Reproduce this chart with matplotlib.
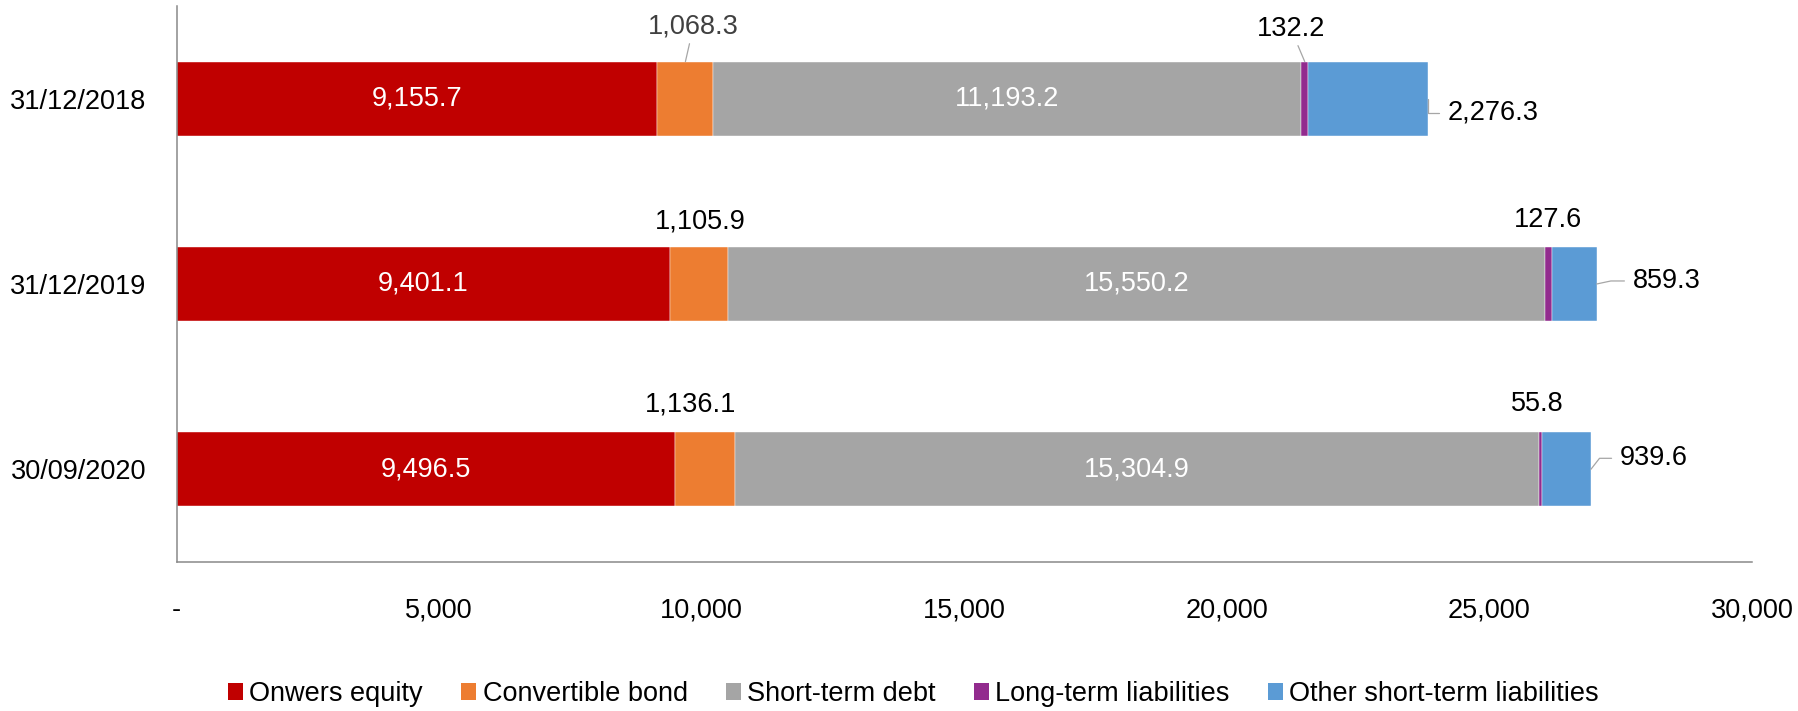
import matplotlib
matplotlib.use('Agg')
import matplotlib.pyplot as plt
from matplotlib.patches import Patch
from matplotlib.ticker import FuncFormatter

# Capital structure by date
dates = ["31/12/2018", "31/12/2019", "30/09/2020"]
series_names = ["Onwers equity", "Convertible bond", "Short-term debt",
                "Long-term liabilities", "Other short-term liabilities"]
owners_equity = [9155.7, 9401.1, 9496.5]
convertible_bond = [1068.3, 1105.9, 1136.1]
short_term_debt = [11193.2, 15550.2, 15304.9]
long_term_liab = [132.2, 127.6, 55.8]
other_short_term = [2276.3, 859.3, 939.6]
x_ticks = [0, 5000, 10000, 15000, 20000, 25000, 30000]

colors = ["#C00000", "#ED7D31", "#A5A5A5", "#922B8E", "#5B9BD5"]

plt.rcParams['font.family'] = ['Liberation Sans', 'DejaVu Sans']
FS = 19.5
DPI = 100

fig = plt.figure(figsize=(17.98, 7.11), dpi=DPI)
ax = fig.add_axes([0.0982, 0.2096, 0.8762, 0.782])

all_series = [owners_equity, convertible_bond, short_term_debt, long_term_liab, other_short_term]
rows = list(range(len(dates)))
bar_h = 0.4

# stacked horizontal bars
lefts = [0.0] * len(dates)
starts = []
for vals, col in zip(all_series, colors):
    ax.barh(rows, vals, left=lefts, height=bar_h, color=col, edgecolor='white', linewidth=0.3)
    starts.append(list(lefts))
    lefts = [l + v for l, v in zip(lefts, vals)]

ax.set_ylim(len(dates) - 0.5, -0.5)
ax.set_xlim(0, 30000)
ax.set_yticks(rows)
ax.set_yticklabels(dates)
ax.set_xticks(x_ticks)
ax.xaxis.set_major_formatter(FuncFormatter(lambda v, p: '-' if v == 0 else f'{v:,.0f}'))
ax.tick_params(axis='x', length=0, pad=25.5, labelsize=FS)
ax.tick_params(axis='y', length=0, pad=22, labelsize=FS)

for s in ['top', 'right']:
    ax.spines[s].set_visible(False)
for s in ['left', 'bottom']:
    ax.spines[s].set_color('#898989')
    ax.spines[s].set_linewidth(1.1)

leader = dict(arrowstyle='-', color='#A6A6A6', lw=0.9, shrinkA=1, shrinkB=0)

# White labels inside equity and short-term debt segments
for idx in (0, 2):
    for r in rows:
        v = all_series[idx][r]
        ax.text(starts[idx][r] + v / 2, r, f'{v:,.1f}', ha='center', va='center',
                color='white', fontsize=FS)

# Labels above the bar (convertible bond, long-term liabilities), pixel offsets from bar top
above_offsets = {1: [(8, 35), (1, 25), (-15, 28)],
                 3: [(-14, 33), (0, 27), (-3, 28)]}
for idx, offs in above_offsets.items():
    for r in rows:
        v = all_series[idx][r]
        xy = (starts[idx][r] + v / 2, r - bar_h / 2)
        col = '#404040' if (idx == 1 and r == 0) else 'black'
        ap = leader if r == 0 else None
        ax.annotate(f'{v:,.1f}', xy=xy, xytext=offs[r], textcoords='offset pixels',
                    ha='center', va='center', fontsize=FS, color=col, arrowprops=ap,
                    annotation_clip=False)

# Other short-term liabilities: right of the bar with connectors
right_offsets = [(20, -14), (36, 3), (29, 11)]
right_angles = [90, 12, 52]
for r in rows:
    v = other_short_term[r]
    xy = (starts[4][r] + v, r)
    ap = dict(leader, shrinkA=4,
              connectionstyle=f'angle,angleA=0,angleB={right_angles[r]},rad=0')
    ax.annotate(f'{v:,.1f}', xy=xy, xytext=right_offsets[r], textcoords='offset pixels',
                ha='left', va='center', fontsize=FS, color='black', arrowprops=ap,
                annotation_clip=False)

handles = [Patch(facecolor=c, edgecolor='none') for c in colors]
fig.legend(handles, series_names, loc='center', bbox_to_anchor=(0.508, 0.024),
           ncol=5, frameon=False, fontsize=FS, handlelength=0.55, handleheight=0.55,
           handletextpad=0.25, columnspacing=1.4)

fig.savefig('out.png', dpi=DPI)
